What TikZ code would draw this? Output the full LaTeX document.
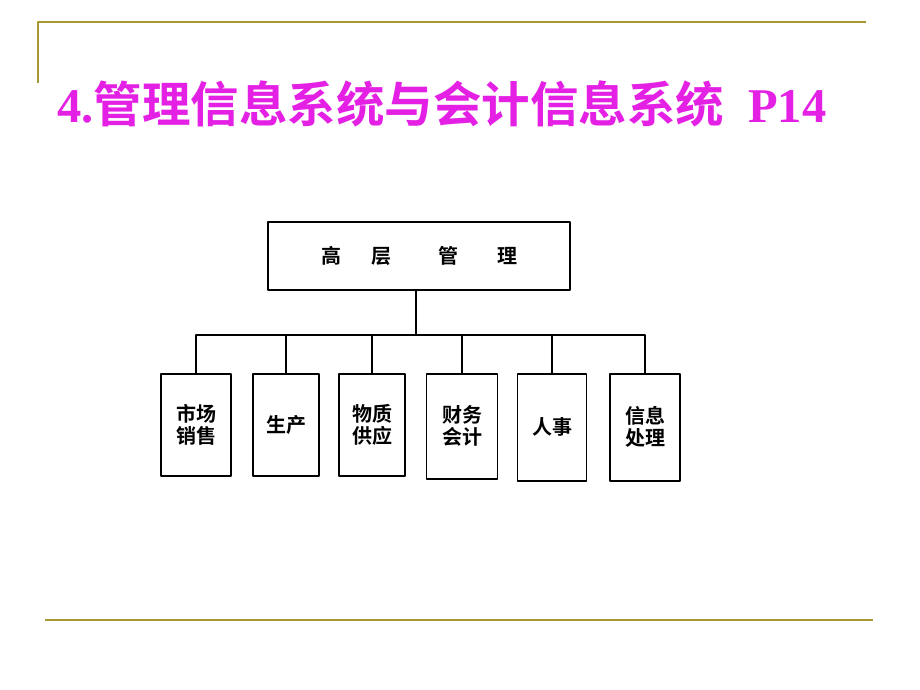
\documentclass[tikz,border=0pt]{standalone}
\usepackage{fontspec}
\setmainfont{Liberation Serif}
\newfontfamily\cjk{Noto Sans CJK SC}[BoldFont=Noto Sans CJK SC Bold]
\definecolor{titlemag}{RGB}{228,32,228}
\definecolor{rulegold}{RGB}{168,152,52}
\tikzset{
  unit/.style={draw, line width=1.6pt, minimum width=68pt, minimum height=102pt, anchor=north, inner sep=0pt, align=center, font=\cjk\bfseries\fontsize{20}{22}\selectfont},
  link/.style={line width=1.1pt}
}
\begin{document}
\begin{tikzpicture}[x=1pt, y=-1pt, line join=round]
		\useasboundingbox (0,0) rectangle (920,690);
		% frame rules
		\draw[rulegold, line width=2pt] (38,83)--(38,22)--(866,22);
		\draw[rulegold, line width=2pt] (45,620)--(873,620);
		% title
		\node[anchor=base west, text=titlemag, inner sep=0pt] (title) at (57,123)
			{\fontsize{48.5}{52}\selectfont\bfseries 4.{\cjk 管理信息系统与会计信息系统}\ \ P14};
		% top box
		\node[draw, line width=1.6pt, minimum width=302pt, minimum height=68pt, font=\cjk\bfseries\fontsize{20}{22}\selectfont] (top) at (419,256)
			{高\hspace{30pt}层\hspace{47pt}管\hspace{39pt}理};
		\coordinate (bus) at (416,335);
		% departments
		\node[unit, minimum width=70pt] (sales) at (196,373) {市场\\销售};
		\node[unit, minimum width=66pt] (prod) at (286,373) {生产};
		\node[unit, minimum width=66pt] (supply) at (372,373) {物质\\供应};
		\node[unit, minimum width=71pt, minimum height=105pt] (acct) at (462,373) {财务\\会计};
		\node[unit, minimum width=69pt, minimum height=107pt] (hr) at (552,373) {人事};
		\node[unit, minimum width=70pt, minimum height=107pt] (info) at (645,373) {信息\\处理};
		% connectors
		\draw[link] (top.south -| bus) -- (bus);
		\draw[link] (sales.north) |- (bus) -| (info.north);
		\foreach \d in {prod,supply,acct,hr}
			\draw[link] (\d.north) -- (\d.north |- bus);
\end{tikzpicture}
\end{document}
